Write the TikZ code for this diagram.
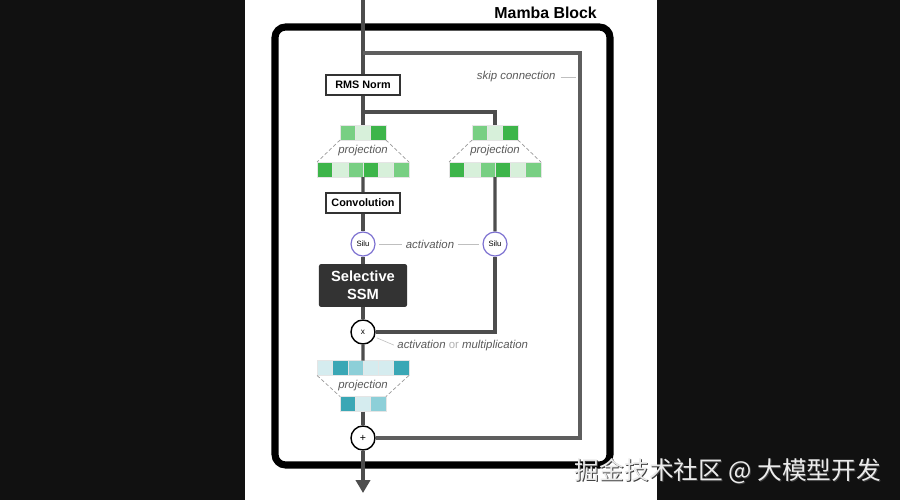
\documentclass[tikz,border=0pt]{standalone}
\usepackage{fontspec}
\setmainfont{Liberation Sans}
\newfontfamily\cjkfont{Noto Sans CJK SC}
\usetikzlibrary{arrows.meta,positioning}

\definecolor{bgdark}{HTML}{111111}
\definecolor{linegray}{HTML}{4D4D4D}
\definecolor{skipgray}{HTML}{5E5E5E}
\definecolor{boxdark}{HTML}{333333}
\definecolor{labelgray}{HTML}{5A5A5A}
\definecolor{silupurple}{HTML}{7B6FD0}
\definecolor{gDark}{HTML}{3DB54A}
\definecolor{gMid}{HTML}{78CF83}
\definecolor{gLight}{HTML}{D7F0DA}
\definecolor{tDark}{HTML}{3AA7B5}
\definecolor{tMid}{HTML}{8DCFD8}
\definecolor{tLight}{HTML}{D5ECEF}

\tikzset{
  flow/.style={line width=2.8pt, linegray},
  skipline/.style={line width=2.8pt, skipgray},
  layer/.style={draw=boxdark, line width=1.7pt, fill=white, minimum width=63pt, minimum height=17pt, inner sep=0pt, font=\bfseries\fontsize{9.2}{10}\selectfont},
  ssmbox/.style={fill=boxdark, rounded corners=2pt, minimum width=75pt, minimum height=36.5pt, text=white, align=center, font=\bfseries\fontsize{12.5}{15}\selectfont},
  silu/.style={circle, draw=silupurple, line width=1pt, fill=white, minimum size=20.4pt, inner sep=0pt, font=\fontsize{6.5}{7}\selectfont},
  opnode/.style={circle, draw=black, line width=1.2pt, fill=white, minimum size=20.4pt, inner sep=0pt},
  cell/.style={minimum width=13pt, minimum height=12.75pt, inner sep=0pt, outer sep=0pt, draw=black!10, line width=0.3pt},
  note/.style={text=labelgray, font=\itshape\fontsize{9.7}{11}\selectfont, inner sep=1pt},
  fan/.style={densely dashed, gray!80, line width=0.6pt},
  tick/.style={gray!50, line width=0.5pt},
}

% one row of projection cells, left cell centre at (#2,#3)
\newcommand{\cellrow}[4]{%
  \foreach \c [count=\i] in {#4}
    \node[cell, fill=\c] (#1-\i) at ({#2+(\i-1)*15.3}, #3) {};
}

\begin{document}
\begin{tikzpicture}[x=0.85pt, y=-0.85pt]
  \useasboundingbox (0,0) rectangle (900,500);

  %% Backdrop
  \fill[bgdark] (0,0) rectangle (900,500);
  \fill[white] (245,0) rectangle (657,500);

  %% Outer frame
  \draw[line width=6pt, rounded corners=9pt] (275,27) rectangle (610,465);
  \node[anchor=east, font=\bfseries\fontsize{13.5}{15}\selectfont] (title) at (601,13) {Mamba Block};

  %% Main path
  \coordinate (in) at (363,0);
  \coordinate (skip) at (363,53);
  \coordinate (br) at (363,112);
  \coordinate (skipc) at (580,53);
  \coordinate (out) at (363,493);
  \node[layer] (rms) at (363,85) {RMS Norm};
  \cellrow{ptA}{347.7}{132.5}{gMid,gLight,gDark}
  \cellrow{pbA}{324.75}{169.5}{gDark,gLight,gMid,gDark,gLight,gMid}
  \node[note] (projA) at (363,151) {projection};
  \node[layer] (conv) at (363,203) {Convolution};
  \node[silu] (siluA) at (363,244) {Silu};
  \node[ssmbox] (ssm) at (363,285.5) {Selective\\SSM};
  \node[opnode, font=\fontsize{7}{8}\selectfont] (mul) at (363,332) {x};
  \cellrow{ptC}{324.75}{368}{tLight,tDark,tMid,tLight,tLight,tDark}
  \cellrow{pbC}{347.7}{404}{tDark,tLight,tMid}
  \node[note] (projC) at (363,386) {projection};
  \node[opnode, font=\fontsize{9}{10}\selectfont] (add) at (363,438) {+};

  %% Right branch
  \cellrow{ptB}{479.7}{132.5}{gMid,gLight,gDark}
  \cellrow{pbB}{456.75}{169.5}{gDark,gLight,gMid,gDark,gLight,gMid}
  \node[note] (projB) at (495,151) {projection};
  \node[silu] (siluB) at (495,244) {Silu};

  % projection fans
  \draw[fan] (ptA-1.south west) -- (pbA-1.north west);
  \draw[fan] (ptA-3.south east) -- (pbA-6.north east);
  \draw[fan] (ptB-1.south west) -- (pbB-1.north west);
  \draw[fan] (ptB-3.south east) -- (pbB-6.north east);
  \draw[fan] (ptC-1.south west) -- (pbC-1.north west);
  \draw[fan] (ptC-6.south east) -- (pbC-3.north east);

  % connectors
  \draw[flow] (in) -- (rms);
  \draw[flow] (rms) -- (ptA-2);
  \draw[flow] (pbA-3.south east) -- (conv);
  \draw[flow] (conv) -- (siluA);
  \draw[flow] (siluA) -- (ssm);
  \draw[flow] (ssm) -- (mul);
  \draw[flow] (mul) -- (ptC-3.north east);
  \draw[flow] (pbC-2) -- (add);
  \draw[flow, -{Triangle[length=11pt, width=12pt]}] (add) -- (out);
  \draw[flow] (br) -| (ptB-2);
  \draw[flow] (pbB-3.south east) -- (siluB);
  \draw[flow] (siluB) |- (mul);
  \draw[skipline] (skip) -- (skipc) |- (add);

  %% Notes
  \node[note, anchor=east] (skiplbl) at (557,77) {skip connection};
  \draw[tick] ([xshift=3pt]skiplbl.east) -- ++(15,0);
  \node[note] (actlbl) at (430,244) {activation};
  \draw[tick, shorten <=3pt, shorten >=2pt] (siluA) -- (actlbl);
  \draw[tick, shorten <=2pt, shorten >=3pt] (actlbl) -- (siluB);
  \node[note, anchor=west] (mullbl) at (396,346) {activation {\upshape\color{gray!60}or} multiplication};
  \draw[tick, shorten <=2pt, shorten >=2pt] (mul) -- (mullbl.west);

  %% Watermark
  \node[text=black!75, font=\cjkfont\fontsize{21}{24}\selectfont] (markshadow) at (729,472) {掘金技术社区 @ 大模型开发};
  \node[text=black!8, font=\cjkfont\fontsize{21}{24}\selectfont] (mark) at (728,471) {掘金技术社区 @ 大模型开发};
\end{tikzpicture}
\end{document}
